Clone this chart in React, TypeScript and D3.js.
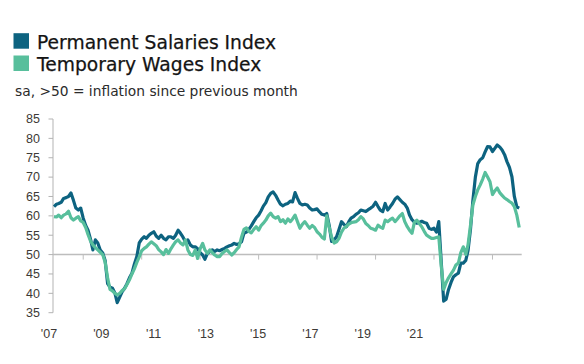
import React from "react";
import * as d3 from "d3";

// monthly readings, Jan 2007 - Dec 2022
const permanent = [
  62.4, 63, 63.2, 63.5, 64.5, 64.7, 65, 65.9, 64, 62, 61.5, 62, // 2007
  59.4, 57.5, 56.3, 54, 51.2, 53.8, 53, 51.2, 50.4, 48.5, 42.5, 41.6, // 2008
  41.3, 40, 37.6, 39, 40.4, 41.3, 42.5, 44, 45.2, 47.5, 49.5, 53, // 2009
  54, 54.6, 54.2, 55, 55.5, 55.9, 54.8, 54.2, 55, 54.2, 53.8, 54.6, // 2010
  54.6, 54.2, 55, 56.3, 55.5, 54.5, 53.3, 53.8, 52.5, 52, 52, 51.5, // 2011
  50.5, 49.9, 48.8, 50.3, 50.8, 51.2, 50.8, 51.2, 51, 51.3, 51.6, 52, // 2012
  52.3, 52.5, 52.9, 52.6, 52.8, 53.3, 55.5, 55.8, 56.5, 57.4, 58.5, 59.5, // 2013
  60.2, 61.3, 62.5, 63.4, 64.9, 65.8, 66.2, 65.3, 64.1, 63, 62.6, 63, // 2014
  63.2, 63.8, 63.6, 66, 64.5, 63.2, 62.8, 63, 62.8, 62, 61.5, 61.6, // 2015
  61.8, 61, 60.4, 60.2, 60.6, 57.5, 53.4, 53.8, 54.6, 56.5, 58.5, 57.8, // 2016
  57.2, 58.5, 59.4, 59.8, 60.4, 60.8, 61.5, 61.3, 61.1, 61.6, 62, 62.5, // 2017
  63.5, 62.4, 61.5, 61.1, 63.2, 61.5, 62.3, 63.2, 64.3, 64.9, 64.2, 63.5, // 2018
  63, 62, 60.2, 59, 58.4, 58.1, 58.3, 58.6, 58.3, 58.1, 56.8, 56.5, // 2019
  56.8, 55.8, 58.5, 48, 38, 38.5, 41, 42.8, 44.3, 44.8, 45.2, 47.8, // 2020
  47.8, 48.5, 51, 56.5, 64, 70, 73.5, 74.5, 75, 76.5, 77.9, 77.8, // 2021
  76.6, 77.5, 78.3, 77.8, 77, 75.8, 74, 72.5, 70.1, 65, 62.3, 62, // 2022
];

const temporary = [
  59.8, 59.7, 60.2, 59.5, 60.2, 60.5, 61.2, 59.5, 58.9, 59.4, 59.8, 58.7, // 2007
  58.3, 57, 55.2, 53.5, 52.5, 51.8, 51.2, 50.6, 50, 48, 44, 41, // 2008
  40.6, 40, 39.6, 40, 40.7, 41.2, 42.3, 43.5, 45, 46.3, 48, 49.4, // 2009
  51, 51.6, 52, 52.7, 53.3, 52.8, 52.3, 51.3, 50.7, 50, 51.3, 50.3, // 2010
  51.5, 52.5, 53.3, 53.8, 53, 52.5, 53.8, 51.2, 50, 49.8, 51.2, 49, // 2011
  51.5, 52.9, 51.2, 50.3, 51.2, 50.5, 49.9, 49.5, 49.5, 50.3, 50.8, 51.2, // 2012
  50.5, 49.9, 50.5, 51.3, 52, 54.5, 56.5, 56.9, 56, 55.6, 56.5, 57.2, // 2013
  56.3, 57.5, 58.1, 58.9, 60, 60.7, 59.8, 59.4, 59.8, 58.5, 59, 58.1, // 2014
  59.2, 58.5, 59.2, 60.2, 58.5, 56.8, 57.8, 58.5, 57.6, 56.8, 57.5, 57, // 2015
  55.9, 55.3, 54.5, 54, 60, 57, 54.5, 53, 53.3, 54.2, 55.8, 56.8, // 2016
  57.3, 57.9, 58.2, 58.4, 58.5, 59, 59.8, 59.2, 58, 57.5, 56.8, 56.6, // 2017
  56.3, 57.6, 57.1, 56.8, 58.9, 58.5, 59, 59.4, 58.5, 59.2, 60, 60.6, // 2018
  58.5, 57.2, 56.3, 55.5, 58.3, 58.9, 58, 57.2, 56, 55, 54.6, 54.2, // 2019
  54.2, 54.4, 54.6, 47, 41, 42.8, 44, 45, 46, 47.3, 47.8, 50.5, // 2020
  52, 50, 52.5, 57.5, 62.8, 65, 66.7, 68, 69.5, 71.2, 70, 68.8, // 2021
  65.5, 66.5, 67.2, 66, 65.3, 64.6, 64.2, 63.7, 63.3, 62.4, 60.2, 57, // 2022
];

const xLabels = ["'07", "'09", "'11", "'13", "'15", "'17", "'19", "'21"];
const seriesNames = ["Permanent Salaries Index", "Temporary Wages Index"];
const subtitle = "sa, >50 = inflation since previous month";

const colors = ["#0d6380", "#58bf9c"];

export default function App() {
  const W = 584;
  const H = 364;

  const x = d3
    .scaleTime()
    .domain([new Date(2007, 0, 1), new Date(2023, 0, 1)])
    .range([54, 521.7]);
  const y = d3.scaleLinear().domain([35, 85]).range([312.7, 119]);
  // labels in the source sit on their own spacing, not under the ticks
  const xl = d3.scalePoint().domain(xLabels).range([49, 415]);

  const line = d3
    .line<number>()
    .x((d, i) => x(new Date(2007, i, 1)))
    .y((d) => y(d));

  const yTicks = y.ticks(10);
  const xTicks = x.ticks(d3.timeYear.every(2)!).filter((d) => d.getFullYear() > 2007);
  const y50 = y(50);

  return (
    <div style={{ position: "fixed", left: 0, top: 0 }}>
      <svg width={W} height={H} style={{ display: "block", background: "#fff" }}>
        {/* legend */}
        {seriesNames.map((name, i) => (
          <g key={name}>
            <rect x={13.5} y={33.2 + i * 22.3} width={15.5} height={15.5} fill={colors[i]} />
            <text
              x={37}
              y={49 + i * 22}
              fontFamily="'DejaVu Sans', sans-serif"
              fontSize={18.7}
              fill="#141414"
              stroke="#141414"
              strokeWidth={0.25}
            >
              {name}
            </text>
          </g>
        ))}
        <text x={15} y={96} fontFamily="'DejaVu Sans', sans-serif" fontSize={13.8} fill="#2b2b2b">
          {subtitle}
        </text>

        {/* y axis */}
        <line x1={53} x2={53} y1={y(85)} y2={y(35)} stroke="#b3b3b3" strokeWidth={1} />
        {yTicks.map((t) => (
          <g key={t}>
            <line x1={48.5} x2={53} y1={y(t)} y2={y(t)} stroke="#b3b3b3" />
            <text
              x={40}
              y={y(t)}
              dy="0.35em"
              textAnchor="end"
              fontFamily="'Liberation Sans', Arial, sans-serif"
              fontSize={12.5}
              fill="#3d3a36"
            >
              {t}
            </text>
          </g>
        ))}

        {/* 50 line with ticks */}
        <line x1={53} x2={x.range()[1]} y1={y50} y2={y50} stroke="#bdbdbd" strokeWidth={1.5} />
        {xTicks.map((d) => (
          <line key={+d} x1={x(d)} x2={x(d)} y1={y50} y2={y50 + 5} stroke="#bdbdbd" strokeWidth={1} />
        ))}
        {xLabels.map((l) => (
          <text
            key={l}
            x={xl(l)}
            y={338}
            textAnchor="middle"
            fontFamily="'Liberation Sans', Arial, sans-serif"
            fontSize={12.5}
            fill="#3d3a36"
          >
            {l}
          </text>
        ))}

        {/* series */}
        <path d={line(permanent) || ""} fill="none" stroke={colors[0]} strokeWidth={3.2} strokeLinejoin="round" />
        <path d={line(temporary) || ""} fill="none" stroke={colors[1]} strokeWidth={3.2} strokeLinejoin="round" />
      </svg>
    </div>
  );
}
